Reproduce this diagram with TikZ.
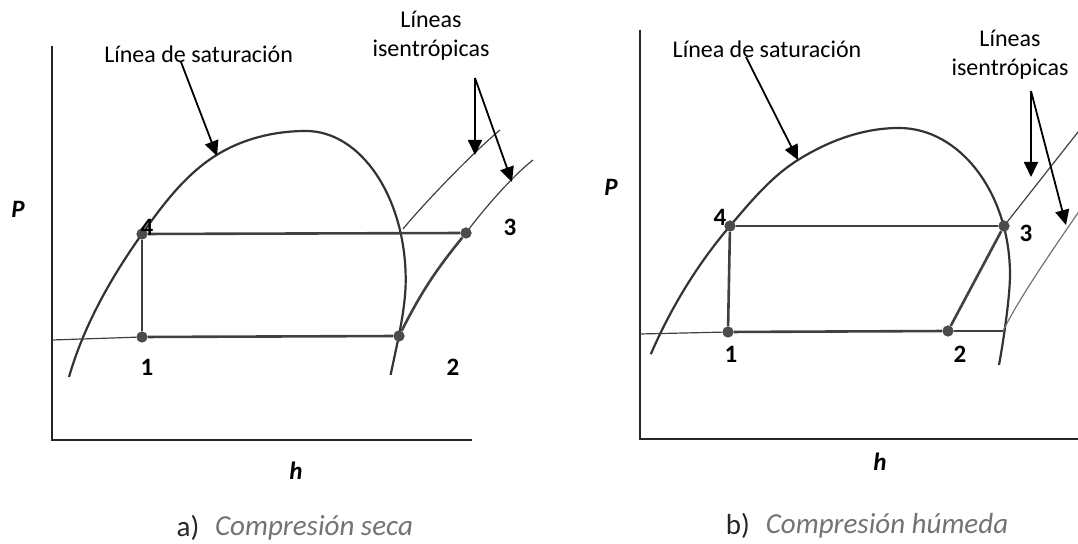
\documentclass[tikz,border=0pt]{standalone}
\usepackage{fontspec}
\setmainfont{Carlito}
\usetikzlibrary{arrows.meta}
\begin{document}
\begin{tikzpicture}[x=0.5pt,y=-0.5pt,
  axis/.style={line width=1pt, draw=black!85},
  sat/.style={line width=1.1pt, draw=black!80},
  thinline/.style={line width=0.6pt, draw=black!75},
  cyc/.style={line width=1.3pt, draw=black!75},
  dot/.style={circle, fill=black!70, inner sep=0pt, minimum size=5.5pt},
  ptlabel/.style={font=\fontsize{12.5}{14}\selectfont\bfseries},
  axlabel/.style={font=\fontsize{12.5}{14}\selectfont\bfseries\itshape},
  lbl/.style={font=\fontsize{12}{14.5}\selectfont, align=center},
  arr/.style={-{Triangle[length=7.5pt,width=7pt]}, line width=0.9pt, draw=black},
  captext/.style={font=\fontsize{14.5}{17}\selectfont\itshape, text=black!55},
  capletter/.style={font=\fontsize{14.5}{17}\selectfont, text=black!85}
]
\useasboundingbox (0,0) rectangle (1078,544);

%%%%%%%%%% Panel a %%%%%%%%%%
\draw[axis] (52,46) -- (52,440) -- (472,440);
\draw[sat] (69,377) .. controls (83.6,326) and (111.2,277.1) .. (142,234)
  .. controls (162.9,204.7) and (184.7,175.4) .. (215,156)
  .. controls (242,138.8) and (274,131) .. (306,131)
  .. controls (361,131) and (405.7,197.7) .. (405.7,280)
  .. controls (405.7,310) and (396.6,345.6) .. (390.6,375);
% isentropes
\draw[thinline] (403,229) .. controls (420,208) and (470,155) .. (500,130);
\draw[thinline] (466,233) .. controls (480,214) and (510,178) .. (533,160);

\node[dot] (a4) at (142,234) {};
\node[dot] (a1) at (142,337) {};
\node[dot] (a2) at (399,336) {};
\node[dot] (a3) at (466,233) {};
\coordinate (a0) at (52,340);

\draw[thinline] (a0) -- (a1);
\draw[cyc] (a1) -- (a2);
\draw[cyc] (a4) -- (a3);
\draw[cyc] (a4) -- (a1);
\draw[cyc] (a2) to[bend left=6] (a3);
\node[dot] at (a4) {};
\node[dot] at (a1) {};
\node[dot] at (a2) {};
\node[dot] at (a3) {};

\node[ptlabel] (la4) at (147,227) {4};
\node[ptlabel] (la1) at (147,367) {1};
\node[ptlabel] (la2) at (453,367) {2};
\node[ptlabel] (la3) at (510,227) {3};
\node[axlabel] (laP) at (18,209) {P};
\node[axlabel] (lah) at (296,471) {h};

\node[lbl] (lsata) at (198.6,54) {Línea de saturación};
\node[lbl] (lisoa) at (431,36) {Líneas\\isentrópicas};
\coordinate (sa0) at (181,62);
\coordinate (sa1) at (217,156);
\draw[arr] (sa0) -- (sa1);
\coordinate (ia0) at (475,78);
\coordinate (ia1) at (475,155);
\coordinate (ia2) at (512,182);
\draw[arr] (ia0) -- (ia1);
\draw[arr] (ia0) -- (ia2);

\node[capletter] (capal) at (188,528) {a)};
\node[captext] (capa) at (314,528) {Compresión seca};

%%%%%%%%%% Panel b %%%%%%%%%%
\draw[axis] (640,30) -- (640,439) -- (1078,439);
\draw[sat] (650.8,354.2) .. controls (670.6,308.3) and (697.5,264) .. (730,226)
  .. controls (750.8,201.6) and (771.2,176.6) .. (798.4,159.7)
  .. controls (829,140.7) and (863,128) .. (899,128)
  .. controls (960.3,128) and (1010,193.9) .. (1010,275)
  .. controls (1010,295) and (1004,338) .. (999,365);
% isentropes
\draw[thinline] (1004,226) -- (1080,129.5);
\draw[thinline, draw=black!55] (1003,331) .. controls (1016,305) and (1035,275) .. (1080,210);

\node[dot] (b4) at (730,226) {};
\node[dot] (b1) at (728,332) {};
\node[dot] (b2) at (948,331) {};
\node[dot] (b3) at (1004,226) {};
\coordinate (b0) at (640,334);
\coordinate (b5) at (1003,331);

\draw[thinline] (b0) -- (b1);
\draw[cyc] (b1) -- (b2);
\draw[thinline] (b2) -- (b5);
\draw[cyc] (b4) -- (b3);
\draw[cyc] (b4) -- (b1);
\draw[cyc] (b2) -- (b3);
\node[dot] at (b4) {};
\node[dot] at (b1) {};
\node[dot] at (b2) {};
\node[dot] at (b3) {};

\node[ptlabel] (lb4) at (720,217) {4};
\node[ptlabel] (lb1) at (731,354) {1};
\node[ptlabel] (lb2) at (960,354) {2};
\node[ptlabel] (lb3) at (1026,233) {3};
\node[axlabel] (lbP) at (611,187) {P};
\node[axlabel] (lbh) at (880,462) {h};

\node[lbl] (lsatb) at (767,49) {Línea de saturación};
\node[lbl] (lisob) at (1010,55) {Líneas\\isentrópicas};
\coordinate (sb0) at (746,57);
\coordinate (sb1) at (798,160);
\draw[arr] (sb0) -- (sb1);
\coordinate (ib0) at (1031,91);
\coordinate (ib1) at (1031,177);
\coordinate (ib2) at (1066,225);
\draw[arr] (ib0) -- (ib1);
\draw[arr] (ib0) -- (ib2);

\node[capletter] (capbl) at (738,526) {b)};
\node[captext] (capb) at (887,526) {Compresión húmeda};
\end{tikzpicture}
\end{document}
